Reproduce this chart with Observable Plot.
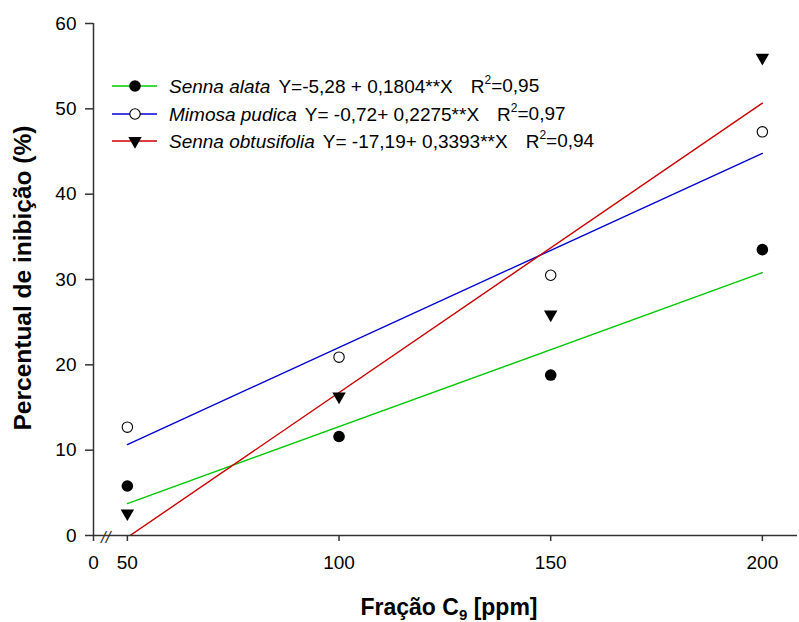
<!DOCTYPE html>
<html><head><meta charset="utf-8">
<script src="https://cdn.jsdelivr.net/npm/d3@7"></script>
<script src="https://cdn.jsdelivr.net/npm/@observablehq/plot@0.6"></script>
<style>
body{margin:0;background:#fff}
svg{font-family:"Liberation Sans",Arial,sans-serif}
</style>
</head><body><div id="chart"></div>
<script>
// ---- data ----
const doses = [50, 100, 150, 200];
const sennaAlata = [5.8, 11.6, 18.8, 33.5];
const mimosaPudica = [12.7, 20.9, 30.5, 47.3];
const sennaObtusifolia = [2.6, 16.3, 25.9, 56.0];

const species = ["Senna alata", "Mimosa pudica", "Senna obtusifolia"];
const equations = ["Y=-5,28 + 0,1804**X", "Y= -0,72+ 0,2275**X", "Y= -17,19+ 0,3393**X"];
const r2Values = ["0,95", "0,97", "0,94"];
const seriesColors = ["#00c800", "#0000d0", "#cc0000"];

// fitted line ends (at x = 50 and x = 200)
const fitX = [50, 200];
const fitAlata = [3.74, 30.80];
const fitMimosa = [10.66, 44.78];
const fitObtus = [-0.22, 50.67];

const xTicks = [42, 50, 100, 150, 200];
const xTickLabels = ["0", "50", "100", "150", "200"];
const yTicks = [0, 10, 20, 30, 40, 50, 60];
const breakAt = [44.9];

const xTitle = ["Fração C", "9", " [ppm]"];
const yTitle = "Percentual de inibição (%)";

// ---- build ----
const xDomain = [42, 208.3];
const axisColor = "#333";
const toPts = (xs, ys) => xs.map((x, i) => ({x, y: ys[i]}));
const labelMap = new Map(xTicks.map((t, i) => [t, xTickLabels[i]]));

const W = 799, H = 622;
const svg = Plot.plot({
  width: W, height: H,
  marginLeft: 93, marginRight: 2, marginTop: 23, marginBottom: 87,
  style: {fontFamily: '"Liberation Sans", Arial, sans-serif', fontSize: "19px", background: "#fff", color: "#000"},
  x: {domain: xDomain},
  y: {domain: [0, 60]},
  marks: [
    Plot.line(toPts(fitX, fitAlata), {x: "x", y: "y", stroke: seriesColors[0], strokeWidth: 1.4}),
    Plot.line(toPts(fitX, fitMimosa), {x: "x", y: "y", stroke: seriesColors[1], strokeWidth: 1.4}),
    Plot.line(toPts(fitX, fitObtus), {x: "x", y: "y", stroke: seriesColors[2], strokeWidth: 1.4, clip: true}),
    Plot.ruleY([0], {stroke: axisColor, strokeWidth: 1.5}),
    Plot.ruleX([xDomain[0]], {stroke: axisColor, strokeWidth: 1.5}),
    Plot.axisX({ticks: xTicks, tickFormat: d => labelMap.get(d), tickSize: 6, tickPadding: 14, fontSize: 19, stroke: axisColor, strokeWidth: 1.5, label: null, fill: "#000"}),
    Plot.axisY({ticks: yTicks, tickSize: 8, tickPadding: 9, fontSize: 19, stroke: axisColor, strokeWidth: 1.5, label: null, fill: "#000"}),
    Plot.text(breakAt, {x: d => d, y: 0, text: () => "//", fontSize: 17, fontStyle: "italic", fill: axisColor, dy: 2}),
    Plot.dot(toPts(doses, sennaAlata), {x: "x", y: "y", r: 5.8, fill: "#000", stroke: "none"}),
    Plot.dot(toPts(doses, mimosaPudica), {x: "x", y: "y", r: 5.2, fill: "#fff", stroke: "#000", strokeWidth: 1.1}),
    Plot.dot(toPts(doses, sennaObtusifolia), {x: "x", y: "y", r: 5, symbol: "triangle", rotate: 180, fill: "#000", stroke: "none"})
  ]
});
document.getElementById("chart").appendChild(svg);

const s = d3.select(svg);
// legend
const rowsY = [86, 114, 141];
species.forEach((name, i) => {
  const g = s.append("g").attr("transform", `translate(0,${rowsY[i]})`);
  g.append("line").attr("x1", 112).attr("x2", 157).attr("y1", 0).attr("y2", 0)
    .attr("stroke", seriesColors[i]).attr("stroke-width", 1.4);
  if (i === 0) g.append("circle").attr("cx", 135).attr("cy", 0).attr("r", 5.8).attr("fill", "#000");
  if (i === 1) g.append("circle").attr("cx", 135).attr("cy", 0).attr("r", 5.2).attr("fill", "#fff").attr("stroke", "#000").attr("stroke-width", 1.1);
  if (i === 2) g.append("path").attr("d", d3.symbol(d3.symbolTriangle, 25 * Math.PI)())
    .attr("transform", "translate(135,0) rotate(180)").attr("fill", "#000");
  const t = g.append("text").attr("x", 169).attr("y", 0).attr("dy", "0.35em")
    .attr("text-anchor", "start").attr("font-size", 19).attr("fill", "#000");
  t.append("tspan").attr("font-style", "italic").text(name);
  t.append("tspan").attr("dx", 8).text(equations[i]);
  t.append("tspan").attr("dx", 18).text("R");
  t.append("tspan").attr("font-size", 12).attr("dy", "-0.75em").text("2");
  t.append("tspan").attr("dy", "0.45em").text("=" + r2Values[i]);
});

// axis titles
const xt = s.append("text").attr("x", 449).attr("y", 615).attr("text-anchor", "middle")
  .attr("font-size", 23).attr("font-weight", "bold").attr("fill", "#000");
xt.append("tspan").text(xTitle[0]);
xt.append("tspan").attr("font-size", 15).attr("dy", 5).text(xTitle[1]);
xt.append("tspan").attr("dy", -5).text(xTitle[2]);

s.append("text").attr("transform", "translate(31,278) rotate(-90)").attr("text-anchor", "middle")
  .attr("font-size", 24.5).attr("font-weight", "bold").attr("fill", "#000").text(yTitle);
</script>
</body></html>
